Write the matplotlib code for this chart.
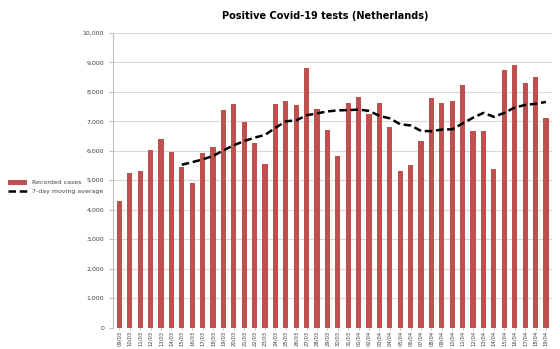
import matplotlib
matplotlib.use("Agg")
import matplotlib.pyplot as plt
from matplotlib.ticker import FuncFormatter, MultipleLocator

dates = ["09/03","10/03","11/03","12/03","13/03","14/03","15/03","16/03","17/03","18/03",
         "19/03","20/03","21/03","22/03","23/03","24/03","25/03","26/03","27/03","28/03",
         "29/03","30/03","31/03","01/04","02/04","03/04","04/04","05/04","06/04","07/04",
         "08/04","09/04","10/04","11/04","12/04","13/04","14/04","15/04","16/04","17/04",
         "18/04","19/04"]
cases = [4280,5260,5320,6020,6390,5970,5450,4890,5920,6120,
         7370,7600,6970,6260,5550,7580,7700,7570,8810,7430,
         6720,5810,7630,7840,7250,7630,6820,5320,5530,6320,
         7790,7640,7680,8220,6680,6680,5370,8740,8900,8300,
         8500,7110]
ma_dates = dates[6:]
moving_avg = [5527,5614,5709,5823,6016,6189,6331,6447,6541,6779,
              7004,7033,7206,7271,7337,7374,7381,7401,7356,7187,
              7101,6901,6861,6674,6667,6723,6730,6930,7124,7289,
              7153,7289,7469,7557,7597,7659]

fig = plt.figure(figsize=(5.6, 3.49), dpi=100)
ax = fig.add_axes([0.202, 0.0616, 0.784, 0.8438])

x = list(range(len(dates)))
bars = ax.bar(x, cases, width=0.5, color="#C0504D", zorder=2, label="Recorded cases")
ma_x = [dates.index(d) for d in ma_dates]
line, = ax.plot(ma_x, moving_avg, color="black", linestyle=(0, (3, 1.5)), linewidth=1.8,
                zorder=3, label="7-day moving average")

ax.set_ylim(0, 10000)
ax.set_xlim(-0.6, len(dates) - 0.4)
ax.yaxis.set_major_locator(MultipleLocator(1000))
ax.yaxis.set_major_formatter(FuncFormatter(lambda v, p: f"{int(v):,}"))
ax.grid(axis="y", color="#D9D9D9", linewidth=0.8, zorder=0)
ax.set_xticks(x)
ax.set_xticklabels(dates, rotation=90, fontsize=3.8, color="#404040")
ax.tick_params(axis="y", labelsize=4.5, labelcolor="#404040", length=3, color="#BFBFBF")
ax.tick_params(axis="x", length=1.5, color="#BFBFBF", pad=1)
for s in ["top", "right", "bottom"]:
    ax.spines[s].set_visible(False)
ax.spines["left"].set_color("#BFBFBF")
ax.spines["left"].set_linewidth(0.8)

fig.text(0.58, 0.955, "Positive Covid-19 tests (Netherlands)", ha="center", va="center",
         fontsize=7, fontweight="bold", color="black")

fig.legend(handles=[bars, line], loc="upper left", bbox_to_anchor=(0.005, 0.5),
           frameon=False, fontsize=4.5, handlelength=3, labelcolor="#404040")

fig.savefig("out.png", dpi=100)
